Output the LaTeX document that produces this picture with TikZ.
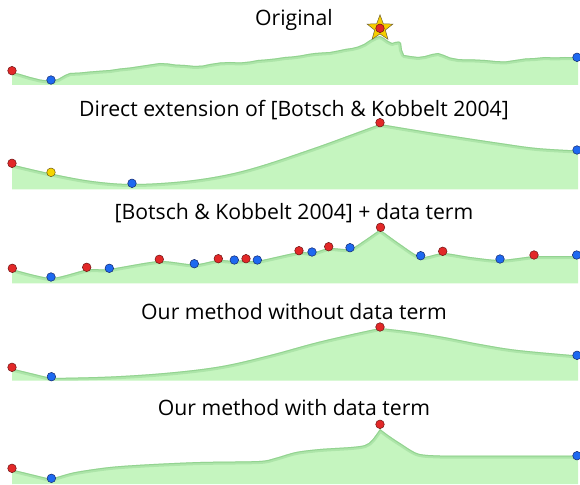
\documentclass[tikz,border=0pt]{standalone}
\usepackage{fontspec}
\setmainfont{Open Sans}
\usetikzlibrary{shapes.geometric}
\definecolor{terrain}{RGB}{197,245,191}
\definecolor{edgegreen}{RGB}{130,200,130}
\definecolor{dotred}{RGB}{226,40,40}
\definecolor{dotredline}{RGB}{110,20,20}
\definecolor{dotblue}{RGB}{30,105,240}
\definecolor{dotblueline}{RGB}{20,40,110}
\definecolor{dotyellow}{RGB}{245,212,0}
\definecolor{dotyellowline}{RGB}{110,90,20}
\definecolor{starfill}{RGB}{246,206,0}
\definecolor{starline}{RGB}{110,95,50}
\tikzset{
  dotbase/.style={circle, inner sep=0pt, minimum size=8.6pt, line width=0.5pt},
  reddot/.style={dotbase, fill=dotred, draw=dotredline},
  bluedot/.style={dotbase, fill=dotblue, draw=dotblueline},
  yellowdot/.style={dotbase, fill=dotyellow, draw=dotyellowline},
  starmark/.style={star, star points=5, star point ratio=2.4, minimum size=27pt, inner sep=0pt, fill=starfill, draw=starline, line width=0.5pt},
  titletext/.style={font=\fontsize{21.2}{25}\selectfont, anchor=base, inner sep=0pt},
  terrainfill/.style={fill=terrain},
  terrainedge/.style={draw=edgegreen, line width=6pt, opacity=0.35, line join=round},
  terrainline/.style={draw=edgegreen, line width=2pt, opacity=0.6, line join=round},
}
\newcommand\terrain[2]{%
  \fill[terrainfill] (12,#1) -- #2 -- (578,#1) -- cycle;
  \begin{scope}
    \clip (12,#1) -- #2 -- (578,#1) -- cycle;
    \draw[terrainedge] #2;
    \draw[terrainline] #2;
  \end{scope}}
\begin{document}
\begin{tikzpicture}[x=1pt, y=-1pt]
\useasboundingbox (0,0) rectangle (580,484);
% ---------- Panel 1 ----------
\node[titletext] (t1) at (294,25.5) {Original};
\terrain{85}{(12,72) -- (20,74) -- (30,77) -- (40,79.5) -- (51,81) -- (58,79) -- (65,75) -- (70,73) -- (80,72.5) -- (90,71.5) -- (100,70.7) -- (110,70) -- (120,68.5) -- (130,67.5) -- (140,66) -- (150,64.5) -- (160,63) -- (168,63.5) -- (175,64.5) -- (185,65) -- (195,66) -- (203,65.5) -- (210,64) -- (220,62.5) -- (230,62) -- (240,62.5) -- (250,61.5) -- (258,60) -- (265,59.5) -- (275,58.5) -- (285,57) -- (292,56.5) -- (300,55.5) -- (308,54) -- (315,53) -- (322,52.5) -- (330,52) -- (338,50.5) -- (345,49) -- (352,48) -- (358,46.5) -- (364,44) -- (370,40) -- (376,37) -- (380,36) -- (384,38) -- (388,41) -- (392,43) -- (395,42) -- (399,41.5) -- (401,43) -- (402,50) -- (404,55) -- (410,56) -- (418,57) -- (425,56) -- (432,54) -- (438,53) -- (444,55) -- (450,57.5) -- (458,59) -- (466,59.5) -- (475,59.5) -- (485,60) -- (495,61) -- (505,61.5) -- (515,60) -- (525,58.5) -- (535,58) -- (545,57) -- (555,57.5) -- (565,57) -- (578,57.3)}
\node[reddot] (p1a) at (12,70.7) {};
\node[bluedot] (p1b) at (51,80) {};
\node[starmark] (p1s) at (380,28.3) {};
\node[reddot] (p1c) at (380,28.3) {};
\node[bluedot] (p1d) at (577,57.3) {};
% ---------- Panel 2 ----------
\node[titletext] (t2) at (294,116.5) {Direct extension of [Botsch \& Kobbelt 2004]};
\terrain{189.3}{plot[smooth, tension=0.6] coordinates {(12,164.5) (51,173.5) (92,181) (132,184) (180,181.5) (222,175.5) (260,166) (314,148) (350,135) (380,124)} -- plot[smooth, tension=0.6] coordinates {(380,124) (410,129) (444,134.5) (500,143) (537,148) (578,150.5)}}
\node[reddot] (p2a) at (12,163.3) {};
\node[yellowdot] (p2b) at (51,172.3) {};
\node[bluedot] (p2c) at (132,183.3) {};
\node[reddot] (p2d) at (380,122.7) {};
\node[bluedot] (p2e) at (577,150) {};
% ---------- Panel 3 ----------
\node[titletext] (t3) at (294,219) {[Botsch \& Kobbelt 2004] + data term};
\terrain{283.3}{plot[smooth, tension=0.4] coordinates {(12,269) (51,278) (87,269.5) (109,269) (159,261) (194,264.5) (218,260) (234,261) (246,260) (257,261) (299,252) (312,253) (329,248) (350,249) (365,240) (380,229.5)} -- plot[smooth, tension=0.4] coordinates {(380,229.5) (400,244) (421,257) (443,253) (470,257) (500,260) (534,256) (545,256) (578,256)}}
\node[reddot] (p3a) at (12.3,268.3) {};
\node[bluedot] (p3b) at (51,277) {};
\node[reddot] (p3c) at (86.7,267.3) {};
\node[bluedot] (p3d) at (109.3,268.3) {};
\node[reddot] (p3e) at (159.3,259.3) {};
\node[bluedot] (p3f) at (194.3,263.7) {};
\node[reddot] (p3g) at (218.3,258.7) {};
\node[bluedot] (p3h) at (234.3,260) {};
\node[reddot] (p3i) at (246,258.7) {};
\node[bluedot] (p3j) at (257.3,260) {};
\node[reddot] (p3k) at (299,250.7) {};
\node[bluedot] (p3l) at (312,252) {};
\node[reddot] (p3m) at (328.7,246.7) {};
\node[bluedot] (p3n) at (350,247.7) {};
\node[reddot] (p3o) at (380.5,227.3) {};
\node[bluedot] (p3p) at (420.7,255.7) {};
\node[reddot] (p3q) at (442.7,251.3) {};
\node[bluedot] (p3r) at (500,259) {};
\node[reddot] (p3s) at (534,255) {};
\node[bluedot] (p3t) at (576.7,255) {};
% ---------- Panel 4 ----------
\node[titletext] (t4) at (294,319.5) {Our method without data term};
\terrain{380.7}{(12,368.5) -- plot[smooth, tension=0.6] coordinates {(51,378) (111,376.5) (170,372.5) (222,366) (270,355) (314,343) (350,334.5) (380,328)} -- plot[smooth, tension=0.6] coordinates {(380,328) (410,331.5) (444,337) (480,344) (518,350) (578,355.5)}}
\node[reddot] (p4a) at (12,367.3) {};
\node[bluedot] (p4b) at (51.4,376.7) {};
\node[reddot] (p4c) at (380,327) {};
\node[bluedot] (p4d) at (577,355.3) {};
% ---------- Panel 5 ----------
\node[titletext] (t5) at (294,415.5) {Our method with data term};
\terrain{484}{(12,469.5) -- plot[smooth, tension=0.5] coordinates {(51,479) (74,472.3) (110,467) (148,464.3) (200,462) (259,461) (275,458) (296,452) (320,449) (351,447) (365,445) (372,440) (380,429)} -- plot[smooth, tension=0.5] coordinates {(380,429) (388,435) (400,443) (418,453.5) (440,455.5) (462,455.7) (578,455.7)}}
\node[reddot] (p5a) at (12,468.3) {};
\node[bluedot] (p5b) at (51.4,478.3) {};
\node[reddot] (p5c) at (380,424.3) {};
\node[bluedot] (p5d) at (577,455.7) {};
\end{tikzpicture}
\end{document}
